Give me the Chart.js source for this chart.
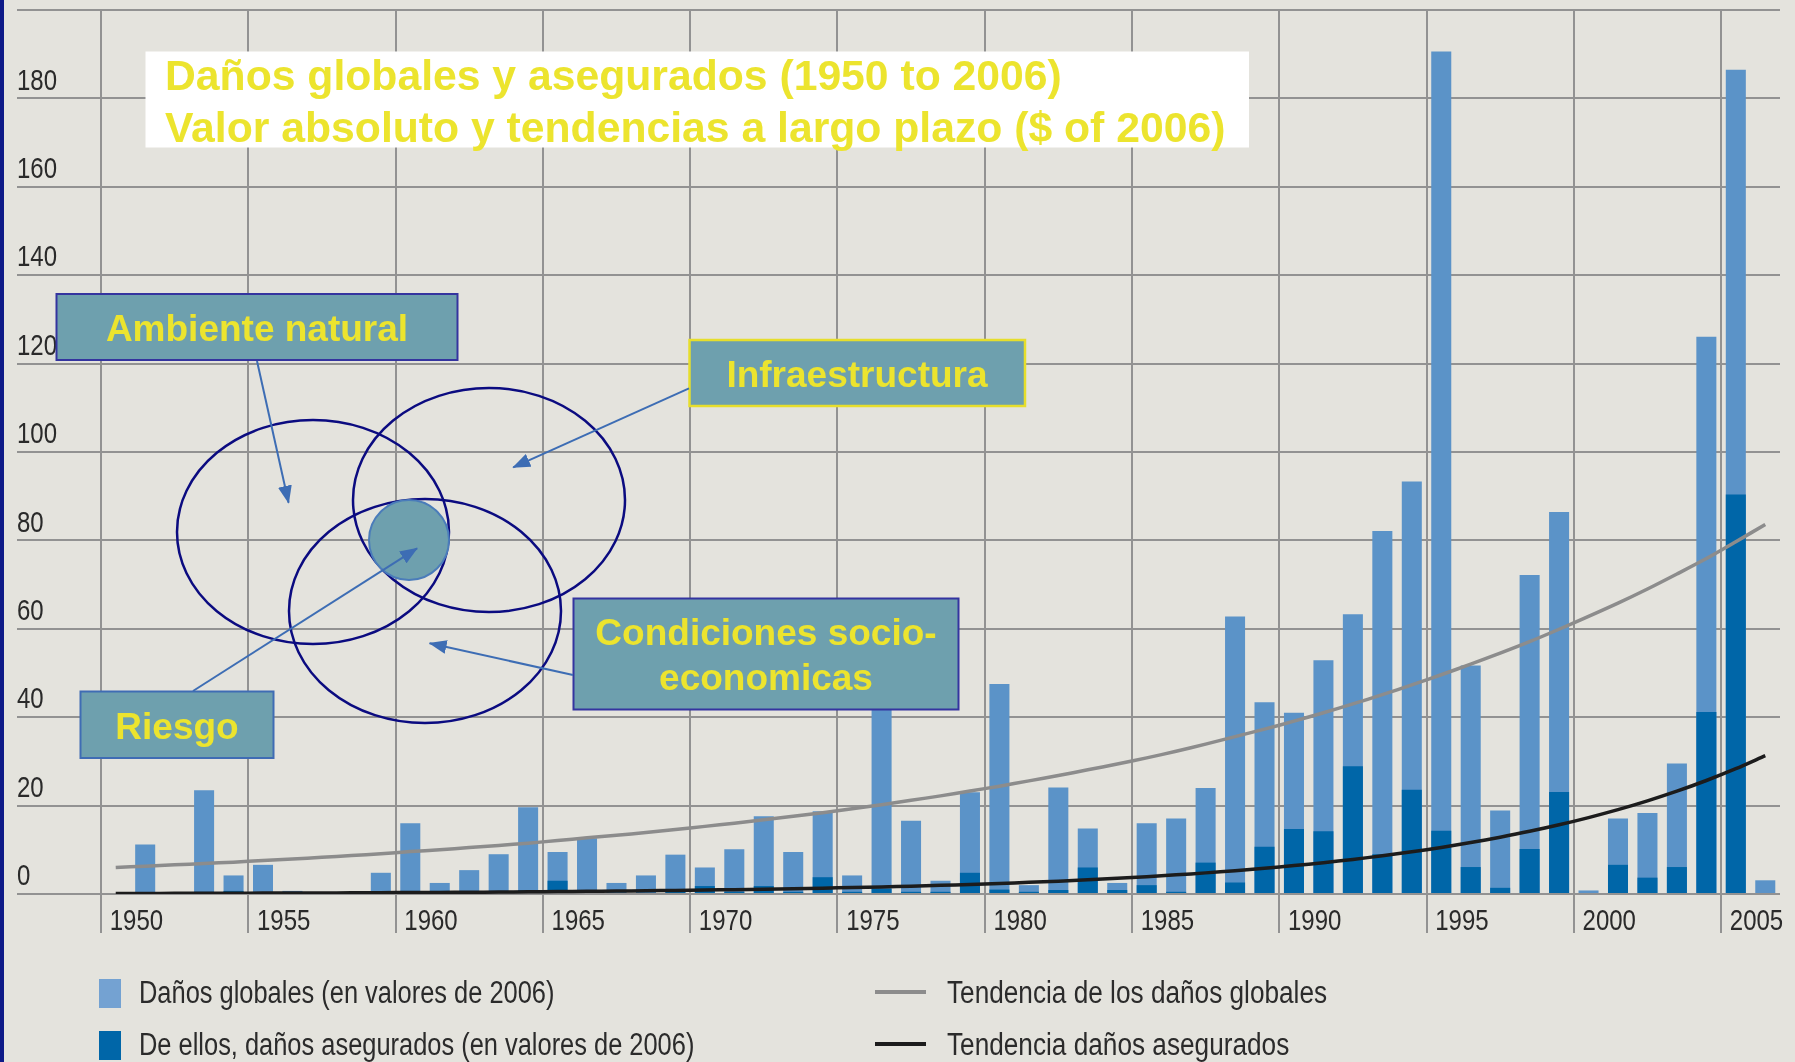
<!DOCTYPE html>
<html lang="es">
<head>
<meta charset="utf-8">
<title>Daños globales y asegurados 1950-2006</title>
<script src="https://cdn.jsdelivr.net/npm/chart.js@4.4.0/dist/chart.umd.min.js"></script>
<style>
  html, body { margin: 0; padding: 0; background: #e4e3dd; }
  #wrap { position: relative; width: 1795px; height: 1062px; overflow: hidden; background: #e4e3dd; }
  #edge { position: absolute; left: 0; top: 0; width: 4px; height: 1062px; background: #0e1a88; }
  #chart, #notes { position: absolute; left: 0; top: 0; }
  .leg { position: absolute; font-family: "Liberation Sans", Arial, sans-serif;
         font-size: 31px; color: #2b2b2b; white-space: nowrap; line-height: 34px;
         transform-origin: 0 50%; }
  .sw { position: absolute; }
  #notes text { font-family: "Liberation Sans", Arial, sans-serif; font-weight: bold; fill: #ece42e; }
</style>
</head>
<body>
<div id="wrap">
  <canvas id="chart" width="1795" height="1062"></canvas>
  <div id="edge"></div>
  <svg id="notes" width="1795" height="1062" xmlns="http://www.w3.org/2000/svg">
    <defs>
      <marker id="ah" markerWidth="18" markerHeight="14" refX="17" refY="7" orient="auto" markerUnits="userSpaceOnUse">
        <path d="M0,0 L18,7 L0,14 z" fill="#3d6db4"/>
      </marker>
    </defs>
    <rect x="145.5" y="51.5" width="1103.5" height="96" fill="#ffffff"/>
    <text x="165" y="90" font-size="42.7">Daños globales y asegurados (1950 to 2006)</text>
    <text x="165" y="141.5" font-size="42.7">Valor absoluto y tendencias a largo plazo ($ of 2006)</text>

    <ellipse cx="313" cy="532" rx="136" ry="112" fill="none" stroke="#0b0b80" stroke-width="2.5"/>
    <ellipse cx="489" cy="500" rx="136" ry="112" fill="none" stroke="#0b0b80" stroke-width="2.5"/>
    <ellipse cx="425" cy="611" rx="136" ry="112" fill="none" stroke="#0b0b80" stroke-width="2.5"/>
    <circle cx="409" cy="540" r="40" fill="#6ea0ae" stroke="#4a7cba" stroke-width="2"/>

    <rect x="56.5" y="294" width="401" height="66" fill="#6ea0ae" stroke="#34349f" stroke-width="2"/>
    <text x="257" y="341" font-size="37" text-anchor="middle">Ambiente natural</text>
    <rect x="689.5" y="340" width="335.5" height="66" fill="#6ea0ae" stroke="#e6de2c" stroke-width="2.5"/>
    <text x="857" y="387" font-size="37" text-anchor="middle">Infraestructura</text>
    <rect x="573.5" y="598.5" width="385" height="111" fill="#6ea0ae" stroke="#3434a0" stroke-width="2"/>
    <text x="766" y="645" font-size="37" text-anchor="middle">Condiciones socio-</text>
    <text x="766" y="689.5" font-size="37" text-anchor="middle">economicas</text>
    <rect x="80.5" y="691.5" width="193" height="66.5" fill="#6ea0ae" stroke="#3f6cb4" stroke-width="2"/>
    <text x="177" y="738.5" font-size="37" text-anchor="middle">Riesgo</text>

    <g stroke="#3d6db4" stroke-width="2" marker-end="url(#ah)">
      <line x1="257" y1="361" x2="288.6" y2="502.7"/>
      <line x1="689" y1="388.3" x2="513.2" y2="467.3"/>
      <line x1="573" y1="675" x2="429.6" y2="643.3"/>
      <line x1="193" y1="691" x2="417.1" y2="548.3"/>
    </g>
  </svg>
</div>
<script>
const years = ["1950","1951","1952","1953","1954","1955","1956","1957","1958","1959",
  "1960","1961","1962","1963","1964","1965","1966","1967","1968","1969",
  "1970","1971","1972","1973","1974","1975","1976","1977","1978","1979",
  "1980","1981","1982","1983","1984","1985","1986","1987","1988","1989",
  "1990","1991","1992","1993","1994","1995","1996","1997","1998","1999",
  "2000","2001","2002","2003","2004","2005","2006"];

// daños globales, miles de millones US$ (valores de 2006)
const overallLoss = [0, 11.2, 0, 23.5, 4.2, 6.6, 0.7, 0, 0, 4.8,
  16, 2.5, 5.4, 9.0, 19.6, 9.5, 12.6, 2.5, 4.2, 8.9,
  6.0, 10.1, 17.6, 9.5, 18.7, 4.2, 45, 16.6, 3.0, 23.0,
  47.5, 2.0, 24.1, 14.8, 2.5, 16.0, 17.1, 24.0, 62.8, 43.4,
  41.0, 52.9, 63.3, 82.1, 93.3, 190.6, 51.7, 18.9, 72.2, 86.4,
  0.8, 17.1, 18.3, 29.5, 126.1, 186.5, 3.1];

// de ellos, daños asegurados
const insuredLoss = [0, 0, 0, 0.5, 0.7, 0, 0, 0, 0, 0,
  0.7, 0.7, 0.4, 0.5, 0.8, 3.0, 0.5, 0.3, 0.3, 0.8,
  1.8, 0.5, 1.8, 0.5, 3.8, 0.5, 1.2, 0.5, 0.5, 4.8,
  1.0, 0.5, 0.9, 6.0, 0.9, 2.0, 0.5, 7.1, 2.6, 10.7,
  14.7, 14.2, 28.9, 9.0, 23.6, 14.3, 6.1, 1.4, 10.2, 23.1,
  0, 6.6, 3.7, 6.1, 41.2, 90.4, 0];

// tendencias
const trendGlobal = [6.0, 6.3, 6.6, 6.9, 7.2, 7.6, 7.9, 8.3, 8.7, 9.1,
  9.6, 10.0, 10.5, 11.0, 11.5, 12.1, 12.7, 13.3, 13.9, 14.6,
  15.3, 16.0, 16.8, 17.6, 18.4, 19.3, 20.2, 21.2, 22.2, 23.3,
  24.4, 25.6, 26.8, 28.1, 29.4, 30.8, 32.3, 33.9, 35.6, 37.3,
  39.1, 41.0, 43.0, 45.1, 47.3, 49.6, 52.0, 54.5, 57.1, 59.9,
  62.8, 65.8, 69.0, 72.4, 75.9, 79.7, 83.6];

const trendInsured = [0.12, 0.13, 0.15, 0.16, 0.18, 0.20, 0.22, 0.24, 0.27, 0.30,
  0.33, 0.36, 0.40, 0.44, 0.49, 0.54, 0.60, 0.66, 0.73, 0.80,
  0.89, 0.98, 1.08, 1.19, 1.32, 1.46, 1.61, 1.78, 1.96, 2.16,
  2.39, 2.64, 2.91, 3.21, 3.55, 3.92, 4.33, 4.78, 5.27, 5.82,
  6.43, 7.09, 7.83, 8.65, 9.55, 10.54, 11.63, 12.85, 14.18, 15.66,
  17.29, 19.08, 21.07, 23.26, 25.68, 28.35, 31.3];

const seriesLabels = [
  "Daños globales (en valores de 2006)",
  "De ellos, daños asegurados (en valores de 2006)",
  "Tendencia de los daños globales",
  "Tendencia daños asegurados"
];

const lightBlue = "#5b93c8";
const darkBlue = "#0066a8";
const trendGrey = "#8c8c8c";
const trendBlack = "#1c1c1c";
const gridColor = "#929292";
const tickFont = "'Liberation Sans', Arial, sans-serif";

// el original usa una letra estrecha: se comprime el texto de los ejes
const narrowText = {
  id: "narrowText",
  beforeDraw(chart) {
    const ctx = chart.ctx;
    if (ctx._wideFill) return;
    ctx._wideFill = ctx.fillText;
    ctx.fillText = function (text, x, y) {
      const w = this.measureText(text).width * 0.8;
      return this._wideFill(text, x, y, Math.max(w, 0.1));
    };
  }
};

const chart = new Chart(document.getElementById("chart"), {
  type: "bar",
  data: {
    labels: years,
    datasets: [
      { type: "line", label: seriesLabels[2], data: trendGlobal, borderColor: trendGrey,
        borderWidth: 3.5, pointRadius: 0, tension: 0.3, order: 0 },
      { type: "line", label: seriesLabels[3], data: trendInsured, borderColor: trendBlack,
        borderWidth: 3.5, pointRadius: 0, tension: 0.3, order: 0 },
      { label: seriesLabels[1], data: insuredLoss, backgroundColor: darkBlue,
        grouped: false, categoryPercentage: 1, barPercentage: 0.68, order: 1 },
      { label: seriesLabels[0], data: overallLoss, backgroundColor: lightBlue,
        grouped: false, categoryPercentage: 1, barPercentage: 0.68, order: 2 }
    ]
  },
  plugins: [narrowText],
  options: {
    responsive: false,
    animation: false,
    devicePixelRatio: 1,
    layout: { padding: { left: 17, right: 15, top: 10, bottom: 128 } },
    plugins: { legend: { display: false }, tooltip: { enabled: false } },
    scales: {
      x: {
        offset: true,
        border: { display: false },
        grid: {
          offset: true,
          lineWidth: 2,
          tickLength: 39,
          color: (c) => (c.index !== undefined && c.index % 5 === 0) ? gridColor : "rgba(0,0,0,0)"
        },
        ticks: {
          autoSkip: false, maxRotation: 0, align: "start", labelOffset: -6, padding: -29,
          color: "#2a2a2a", font: { family: tickFont, size: 30 },
          callback: (v, i) => (Number(years[i]) % 5 === 0 ? years[i] : "")
        },
        afterFit: (s) => { s.height = 40; s.paddingLeft = 0; s.paddingRight = 0; }
      },
      y: {
        min: 0, max: 200,
        border: { display: false },
        grid: { color: gridColor, lineWidth: 2, tickLength: 84 },
        ticks: {
          stepSize: 20, crossAlign: "far", labelOffset: -17, padding: 0,
          color: "#2a2a2a", font: { family: tickFont, size: 30 },
          callback: (v) => (v === 200 ? "" : v)
        },
        afterFit: (s) => { s.width = 84; s.paddingTop = 0; s.paddingBottom = 0; }
      }
    }
  }
});

// leyenda en dos columnas, como en el original
const wrap = document.getElementById("wrap");
const legendSpots = [
  { ds: 3, x: 99, y: 979, kind: "box", color: "#74a2d2", squeeze: 0.82 },
  { ds: 2, x: 99, y: 1031, kind: "box", color: darkBlue, squeeze: 0.82 },
  { ds: 0, x: 875, y: 979, kind: "line", color: trendGrey, squeeze: 0.845 },
  { ds: 1, x: 875, y: 1031, kind: "line", color: trendBlack, squeeze: 0.845 }
];
legendSpots.forEach((p) => {
  const sw = document.createElement("div");
  sw.className = "sw";
  sw.style.background = p.color;
  if (p.kind === "box") {
    sw.style.left = p.x + "px"; sw.style.top = p.y + "px";
    sw.style.width = "22px"; sw.style.height = "29px";
  } else {
    sw.style.left = p.x + "px"; sw.style.top = (p.y + 11) + "px";
    sw.style.width = "51px"; sw.style.height = "4px";
  }
  wrap.appendChild(sw);
  const t = document.createElement("div");
  t.className = "leg";
  t.textContent = chart.data.datasets[p.ds].label;
  t.style.left = (p.kind === "box" ? 139 : 947) + "px";
  t.style.top = (p.y - 3) + "px";
  t.style.transform = "scaleX(" + p.squeeze + ")";
  wrap.appendChild(t);
});
</script>
</body>
</html>
